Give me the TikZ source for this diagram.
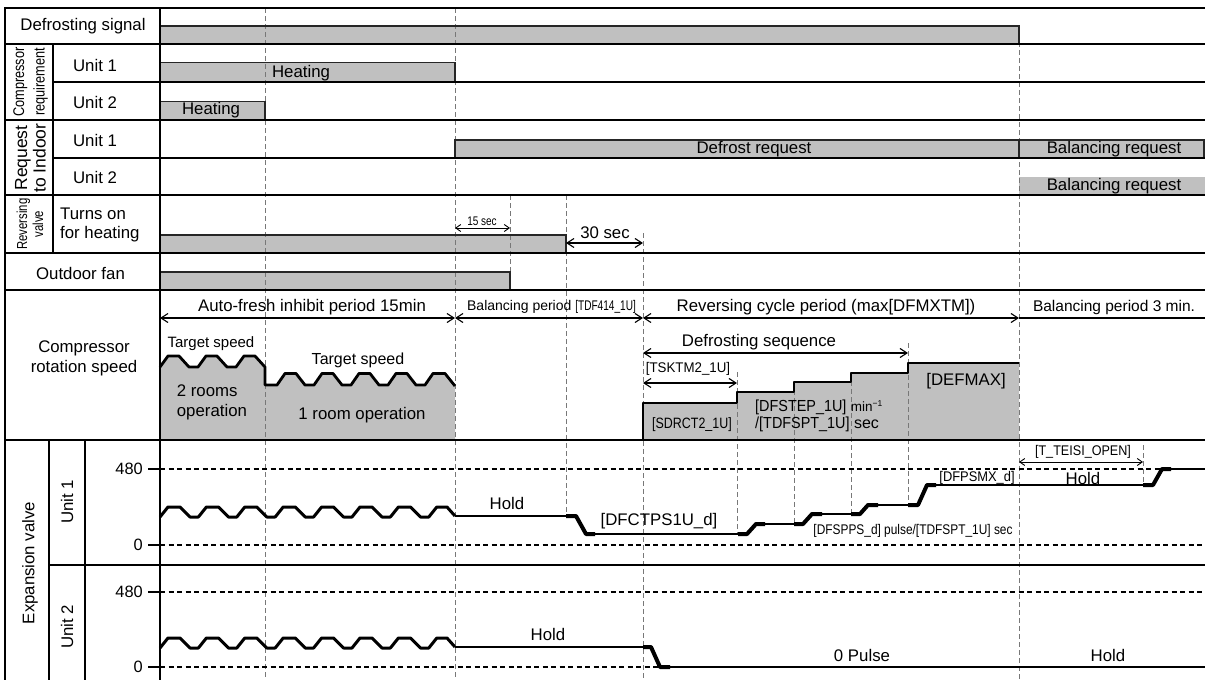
\documentclass[tikz,border=0pt]{standalone}
\usepackage{fontspec}
\setmainfont{Liberation Sans}
\usepackage{graphicx}
\usetikzlibrary{arrows.meta}
\definecolor{barfill}{RGB}{192,192,192}
\definecolor{dashgray}{RGB}{120,120,120}
\newcommand{\sx}[2]{\scalebox{#1}[1]{#2}}
\newcommand{\fs}[1]{\fontsize{#1}{#1}\selectfont}
\begin{document}
\begin{tikzpicture}[x=1pt,y=-1pt,
  every node/.style={inner sep=0pt, font=\fontsize{16.8}{20}\selectfont},
  rowthick/.style={line width=2.5pt, line cap=rect},
  rowthin/.style={line width=1.2pt},
  barline/.style={draw=black!85, line width=1.1pt},
  vdash/.style={draw=dashgray, line width=0.9pt, dash pattern=on 5pt off 3pt},
  hdash/.style={draw=black, line width=1.1pt, dash pattern=on 5pt off 3.5pt},
  dimarrow/.style={line width=1.1pt, {Straight Barb[length=7pt,width=9pt]}-{Straight Barb[length=7pt,width=9pt]}},
  smallarrow/.style={line width=0.9pt, {Straight Barb[length=5pt,width=7pt]}-{Straight Barb[length=5pt,width=7pt]}},
  spd/.style={line width=2.8pt, line join=round},
  wave/.style={line width=3pt, line join=round},
  trc/.style={line width=2pt},
  trcthick/.style={line width=4pt, line join=round}]
\useasboundingbox (0,0) rectangle (1205,680);
\fill[white] (0,0) rectangle (1205,680);

% ---------- gray bars ----------
\fill[barfill] (160,26) rectangle (1019,44);
\fill[barfill] (160,62.7) rectangle (455,82);
\fill[barfill] (160,101.7) rectangle (265,120);
\fill[barfill] (455,140) rectangle (1204,158);
\fill[barfill] (1019,177) rectangle (1205,195);
\fill[barfill] (160,235) rectangle (566,253);
\fill[barfill] (160,272) rectangle (510,290);

% ---------- compressor speed fills ----------
\fill[barfill] (160,440) -- (160,367) -- (168,356) -- (179,356) -- (189,367) -- (198,367) -- (206,356) -- (217,356) -- (227,367) -- (236,367) -- (244,356) -- (255,356) -- (265,367) -- (265,385) -- (277,385) -- (285,373.5) -- (296,373.5) -- (305,385) -- (314,385) -- (322,373.5) -- (333,373.5) -- (342,385) -- (351,385) -- (359,373.5) -- (370,373.5) -- (379,385) -- (388,385) -- (396,373.5) -- (407,373.5) -- (416,385) -- (425,385) -- (433,373.5) -- (445,373.5) -- (455,386) -- (455,440) -- cycle;
\fill[barfill] (643,440) -- (643,403) -- (737,403) -- (737,392) -- (794,392) -- (794,382) -- (851,382) -- (851,373) -- (908,373) -- (908,363) -- (1019,363) -- (1019,440) -- cycle;

% ---------- dashed time marks ----------
\draw[vdash] (265,8) -- (265,680);
\draw[vdash] (455,8) -- (455,680);
\draw[vdash] (510,195) -- (510,272);
\draw[vdash] (566,195) -- (566,514);
\draw[vdash] (643,233) -- (643,680);
\draw[vdash] (737,372) -- (737,533);
\draw[vdash] (794,382) -- (794,523);
\draw[vdash] (851,373) -- (851,513);
\draw[vdash] (908,343) -- (908,504);
\draw[vdash] (1019,42) -- (1019,680);
\draw[vdash] (1143,445) -- (1143,485);

% ---------- valve axes ----------
\draw[hdash] (160,469) -- (1205,469);
\draw[hdash] (160,545) -- (1205,545);
\draw[hdash] (160,592) -- (1205,592);
\draw[hdash] (160,667) -- (1205,667);
\draw[rowthin] (148,469) -- (160,469);
\draw[rowthin] (148,545) -- (160,545);
\draw[rowthin] (148,592) -- (160,592);
\draw[rowthin] (148,667) -- (160,667);

% ---------- bar outlines ----------
\draw[barline] (160,26) -- (1019,26) -- (1019,44);
\draw[barline] (160,62.7) -- (455,62.7) -- (455,82);
\draw[barline] (160,101.7) -- (265,101.7) -- (265,120);
\draw[barline] (455,158) -- (455,140) -- (1204,140) -- (1204,158);
\draw[barline] (1019,140) -- (1019,158);
\draw[barline] (160,235) -- (566,235) -- (566,253);
\draw[barline] (160,272) -- (510,272) -- (510,290);

% ---------- grid ----------
\draw[rowthick] (5,8) -- (1205,8);
\draw[rowthick] (5,44) -- (1205,44);
\draw[rowthin] (53,82) -- (1205,82);
\draw[rowthick] (5,120) -- (1205,120);
\draw[rowthin] (53,158) -- (1205,158);
\draw[rowthick] (5,195) -- (1205,195);
\draw[rowthin] (5,253) -- (1205,253);
\draw[rowthin] (5,290) -- (1205,290);
\draw[rowthin] (5,440) -- (1205,440);
\draw[rowthin] (49,565) -- (1205,565);
\draw[rowthick] (5,8) -- (5,680);
\draw[rowthick] (160,8) -- (160,680);
\draw[rowthin] (53,44) -- (53,253);
\draw[rowthin] (49,440) -- (49,680);
\draw[rowthin] (85,440) -- (85,680);

% ---------- compressor speed outlines ----------
\draw[spd] (160,367) -- (168,356) -- (179,356) -- (189,367) -- (198,367) -- (206,356) -- (217,356) -- (227,367) -- (236,367) -- (244,356) -- (255,356) -- (265,367) -- (265,385) -- (277,385) -- (285,373.5) -- (296,373.5) -- (305,385) -- (314,385) -- (322,373.5) -- (333,373.5) -- (342,385) -- (351,385) -- (359,373.5) -- (370,373.5) -- (379,385) -- (388,385) -- (396,373.5) -- (407,373.5) -- (416,385) -- (425,385) -- (433,373.5) -- (445,373.5) -- (455,386);
\draw[spd] (643,440) -- (643,403) -- (737,403) -- (737,392) -- (794,392) -- (794,382) -- (851,382) -- (851,373) -- (908,373) -- (908,363) -- (1019,363);

% ---------- dimension arrows ----------
\draw[smallarrow] (455,228) -- (510,228);
\draw[dimarrow] (566,243) -- (643,243);
\draw[dimarrow] (160,318) -- (455,318);
\draw[dimarrow] (455,318) -- (643,318);
\draw[dimarrow] (643,318) -- (1019,318);
\draw[rowthin] (1019,318) -- (1205,318);
\draw[dimarrow] (643,353) -- (908,353);
\draw[dimarrow] (643,383) -- (737,383);
\draw[smallarrow] (1019,462) -- (1143,462);

% ---------- expansion valve traces ----------
\foreach \yy in {0,131}{
\draw[wave] (160,517+\yy) -- (168,507+\yy) -- (180,507+\yy) -- (190,517+\yy) -- (198.4,517+\yy)
 -- (206.4,507+\yy) -- (218.4,507+\yy) -- (228.4,517+\yy) -- (236.8,517+\yy)
 -- (244.8,507+\yy) -- (256.8,507+\yy) -- (266.8,517+\yy) -- (275.2,517+\yy)
 -- (283.2,507+\yy) -- (295.2,507+\yy) -- (305.2,517+\yy) -- (313.6,517+\yy)
 -- (321.6,507+\yy) -- (333.6,507+\yy) -- (343.6,517+\yy) -- (352,517+\yy)
 -- (360,507+\yy) -- (372,507+\yy) -- (382,517+\yy) -- (390.4,517+\yy)
 -- (398.4,507+\yy) -- (410.4,507+\yy) -- (420.4,517+\yy) -- (428.8,517+\yy)
 -- (436.8,507+\yy) -- (447,507+\yy) -- (455,516+\yy);
}
\draw[trc] (455,516) -- (566,516);
\draw[trcthick] (566,516) -- (576,516) -- (586,534) -- (595,534);
\draw[trc] (595,534) -- (738,534);
\draw[trcthick] (738,534) -- (747,534) -- (756,524) -- (765,524);
\draw[trc] (765,524) -- (794,524);
\draw[trcthick] (794,524) -- (803,524) -- (812,514) -- (822,514);
\draw[trc] (822,514) -- (851,514);
\draw[trcthick] (851,514) -- (860,514) -- (868,505) -- (878,505);
\draw[trc] (878,505) -- (908,505);
\draw[trcthick] (908,505) -- (918,505) -- (927,485) -- (936,485);
\draw[trc] (936,485) -- (1143,485);
\draw[trcthick] (1143,485) -- (1153,485) -- (1162,469) -- (1171,469);
\draw[trc] (1171,469) -- (1205,469);
\draw[trc] (455,647) -- (643,647);
\draw[trcthick] (643,647) -- (651,647) -- (660,667) -- (670,667);
\draw[line width=2.4pt] (670,667) -- (1205,667);

% ---------- label column ----------
\node (lDS) at (83,26) {Defrosting signal};
\node[rotate=90, align=center, font=\fontsize{15.5}{20.5}\selectfont] (lCR) at (30.5,82) {\sx{.82}{Compressor}\\\sx{.82}{requirement}};
\node (lCR1) at (95,65) {Unit 1};
\node (lCR2) at (95,102) {Unit 2};
\node[rotate=90, align=center, font=\fontsize{17.5}{18.5}\selectfont] (lRI) at (30.5,158) {Request\\to Indoor};
\node (lRI1) at (95,140) {Unit 1};
\node (lRI2) at (95,177) {Unit 2};
\node[rotate=90, align=center, font=\fontsize{14.5}{16}\selectfont] (lRV) at (30,224) {\sx{.78}{Reversing}\\\sx{.78}{valve}};
\node[align=left, anchor=west, font=\fontsize{16.8}{19}\selectfont] (lTO) at (60,225) {Turns on\\for heating};
\node (lOF) at (80.5,273) {Outdoor fan};
\node[align=center] (lCS) at (84,358) {Compressor\\rotation speed};
\node[rotate=90] (lEV) at (30,563) {Expansion valve};
\node[rotate=90] (lEV1) at (67,502) {Unit 1};
\node[rotate=90] (lEV2) at (67,627) {Unit 2};
\node[anchor=east, font=\fs{16.4}] (a480a) at (143,469) {480};
\node[anchor=east, font=\fs{16.4}] (a0a) at (143,545) {0};
\node[anchor=east, font=\fs{16.4}] (a480b) at (143,592) {480};
\node[anchor=east, font=\fs{16.4}] (a0b) at (143,667) {0};

% ---------- chart texts ----------
\node (tH1) at (301,73) {Heating};
\node (tH2) at (211,110.5) {Heating};
\node (tDR) at (754,149.5) {Defrost request};
\node (tBR1) at (1114,149.5) {Balancing request};
\node (tBR2) at (1114,186.5) {Balancing request};
\node[font=\fs{12.5}] (t15) at (482,221.5) {\sx{.8}{15 sec}};
\node (t30) at (605,232.5) {30 sec};
\node (tAF) at (312,307) {Auto-fresh inhibit period 15min};
\node[font=\fs{14}] (tBP) at (551.5,307) {Balancing period \sx{.72}{[TDF414\_1U]}};
\node (tRC) at (826,307) {Reversing cycle period (max[DFMXTM])};
\node[font=\fs{15.5}] (tBP3) at (1114,307) {Balancing period 3 min.};
\node (tDS) at (759,342) {Defrosting sequence};
\node[font=\fs{14}] (tTS) at (688,369) {\sx{.95}{[TSKTM2\_1U]}};
\node[font=\fs{15}] (tTG1) at (211,344) {Target speed};
\node[font=\fs{16}] (tTG2) at (358,360) {Target speed};
\node[align=left, anchor=west] (t2R) at (176.7,402.5) {2 rooms\\operation};
\node (t1R) at (362,415) {1 room operation};
\node[font=\fs{15}] (tSD) at (692,425) {\sx{.83}{[SDRCT2\_1U]}};
\node[align=left, anchor=west, font=\fontsize{16}{17.5}\selectfont] (tDF) at (755,416) {\sx{.9}{[DFSTEP\_1U]} {\fs{13.5}min\raisebox{5pt}{\fs{8.5}\char"2212 1}}\\\sx{.9}{/[TDFSPT\_1U]} sec};
\node (tDM) at (966,381.5) {[DEFMAX]};
\node (tHo1) at (507,503) {Hold};
\node (tDC) at (659,521.5) {[DFCTPS1U\_d]};
\node[font=\fs{14}] (tDP) at (913,531) {\sx{.85}{[DFSPPS\_d] pulse/[TDFSPT\_1U] sec}};
\node[font=\fs{14}] (tDX) at (977,478) {\sx{.92}{[DFPSMX\_d]}};
\node[font=\fs{14}] (tTE) at (1083,451.5) {\sx{.9}{[T\_TEISI\_OPEN]}};
\node (tHo2) at (1083,478) {Hold};
\node (tHo3) at (548,634) {Hold};
\node (t0P) at (862,655) {0 Pulse};
\node (tHo4) at (1108,655) {Hold};
\end{tikzpicture}
\end{document}
